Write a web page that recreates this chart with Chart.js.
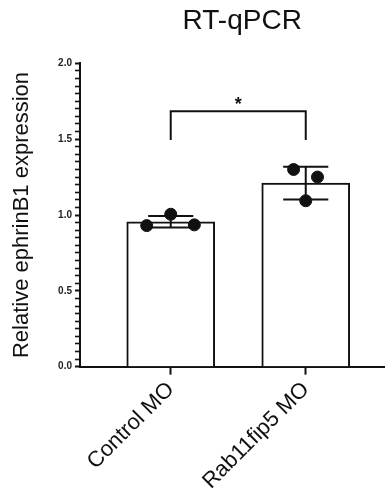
<!DOCTYPE html>
<html>
<head>
<meta charset="utf-8">
<script src="https://cdn.jsdelivr.net/npm/chart.js@4/dist/chart.umd.min.js"></script>
<style>
  html, body { margin: 0; padding: 0; background: #fff; }
  #wrap { width: 385px; height: 497px; }
</style>
</head>
<body>
<div id="wrap"><canvas id="c" width="385" height="497"></canvas></div>
<script>
// ---- data ----
const chartTitle = 'RT-qPCR';
const categories = ['Control MO', 'Rab11fip5 MO'];
const barMeans = [0.955, 1.21];
const barSD = [0.038, 0.108];
const pointsControl = [0.93, 1.005, 0.935];
const pointsRab = [1.30, 1.25, 1.094];
const pointJitter = [[-0.178, 0, 0.175], [-0.09, 0.087, 0]];
const yTickLabels = ['0.0', '0.5', '1.0', '1.5', '2.0'];
const yMinorStep = 0.05;
const sigBracket = { from: 0, to: 1, top: 1.684, legBottom: 1.494, label: '*' };

const FONT = "'Liberation Sans', Arial, sans-serif";
const INK = '#111';

const pointSets = [pointsControl, pointsRab];
const scatterData = [];
pointSets.forEach((arr, gi) => arr.forEach((v, j) => scatterData.push({ x: gi + pointJitter[gi][j], y: v })));

const isMajor = (v) => Math.abs(v - Math.round(v / 0.5) * 0.5) < 1e-6;

const errorBarPlugin = {
  id: 'errorBars',
  afterDatasetDraw(chart, args) {
    if (args.index !== 0) return;
    const { ctx, scales: { x, y } } = chart;
    ctx.save();
    ctx.strokeStyle = INK;
    ctx.lineWidth = 2;
    barMeans.forEach((m, i) => {
      const cx = x.getPixelForValue(i);
      const yt = y.getPixelForValue(m + barSD[i]);
      const yb = y.getPixelForValue(m - barSD[i]);
      const half = x.getPixelForValue(i + 0.167) - cx;
      ctx.beginPath();
      ctx.moveTo(cx, yt); ctx.lineTo(cx, yb);
      ctx.moveTo(cx - half, yt); ctx.lineTo(cx + half, yt);
      ctx.moveTo(cx - half, yb); ctx.lineTo(cx + half, yb);
      ctx.stroke();
    });
    ctx.restore();
  }
};

const bracketPlugin = {
  id: 'bracket',
  afterDatasetsDraw(chart) {
    const { ctx, scales: { x, y } } = chart;
    const x1 = x.getPixelForValue(sigBracket.from);
    const x2 = x.getPixelForValue(sigBracket.to);
    const yt = y.getPixelForValue(sigBracket.top);
    const yl = y.getPixelForValue(sigBracket.legBottom);
    ctx.save();
    ctx.strokeStyle = INK;
    ctx.lineWidth = 2;
    ctx.beginPath();
    ctx.moveTo(x1, yl); ctx.lineTo(x1, yt); ctx.lineTo(x2, yt); ctx.lineTo(x2, yl);
    ctx.stroke();
    ctx.fillStyle = INK;
    ctx.font = 'bold 18px ' + FONT;
    ctx.textAlign = 'center';
    ctx.textBaseline = 'middle';
    ctx.fillText(sigBracket.label, (x1 + x2) / 2, yt - 6);
    ctx.restore();
  }
};

const titlePlugin = {
  id: 'topTitle',
  afterDraw(chart) {
    const { ctx, scales: { x } } = chart;
    const cx = (x.getPixelForValue(0) + x.getPixelForValue(categories.length - 1)) / 2 + 4;
    ctx.save();
    ctx.fillStyle = INK;
    ctx.font = '28px ' + FONT;
    ctx.textAlign = 'center';
    ctx.textBaseline = 'alphabetic';
    ctx.fillText(chartTitle, cx, 28.5);
    ctx.restore();
  }
};

new Chart(document.getElementById('c'), {
  type: 'bar',
  data: {
    datasets: [
      {
        type: 'bar',
        data: barMeans.map((v, i) => ({ x: i, y: v })),
        backgroundColor: '#fff',
        borderColor: INK,
        borderWidth: 2,
        borderSkipped: 'bottom',
        barThickness: 88,
        order: 2
      },
      {
        type: 'scatter',
        data: scatterData,
        backgroundColor: INK,
        borderColor: INK,
        pointRadius: 6,
        pointHoverRadius: 6,
        order: 1
      }
    ]
  },
  options: {
    responsive: false,
    animation: false,
    events: [],
    layout: { autoPadding: false, padding: { top: 63.3, left: 0, right: 0, bottom: 0 } },
    plugins: {
      legend: { display: false },
      tooltip: { enabled: false },
      title: { display: false }
    },
    scales: {
      x: {
        type: 'linear',
        offset: false,
        min: -0.672,
        max: 1.587,
        afterBuildTicks(scale) { scale.ticks = categories.map((c, i) => ({ value: i })); },
        afterFit(scale) { scale.height = 130.3; scale.paddingLeft = 0; scale.paddingRight = 0; },
        grid: { offset: false, drawOnChartArea: false, drawTicks: true, tickLength: 8, tickWidth: 2, tickColor: INK },
        border: { display: true, color: INK, width: 2 },
        ticks: {
          autoSkip: false,
          minRotation: 45,
          maxRotation: 45,
          padding: 2,
          color: INK,
          font: { family: FONT, size: 22 },
          callback: (v) => categories[v]
        }
      },
      y: {
        min: 0,
        max: 2,
        afterBuildTicks(scale) {
          const n = Math.round(2 / yMinorStep);
          const t = [];
          for (let i = 0; i <= n; i++) t.push({ value: Math.round(i * yMinorStep * 100) / 100 });
          scale.ticks = t;
        },
        afterFit(scale) { scale.width = 80; },
        grid: {
          drawOnChartArea: false, drawTicks: true, tickLength: 5,
          tickWidth: (c) => (c.tick && isMajor(c.tick.value) ? 2 : 1.6),
          tickColor: INK
        },
        border: { display: true, color: INK, width: 2 },
        title: {
          display: true,
          text: 'Relative ephrinB1 expression',
          color: INK,
          font: { family: FONT, size: 22 },
          padding: { top: 9, bottom: 0 }
        },
        ticks: {
          autoSkip: false,
          padding: 3,
          color: '#222',
          font: { family: FONT, size: 10, weight: 'bold' },
          callback: (v) => (isMajor(v) ? yTickLabels[Math.round(v / 0.5)] : '')
        }
      }
    }
  },
  plugins: [errorBarPlugin, bracketPlugin, titlePlugin]
});
</script>
</body>
</html>
